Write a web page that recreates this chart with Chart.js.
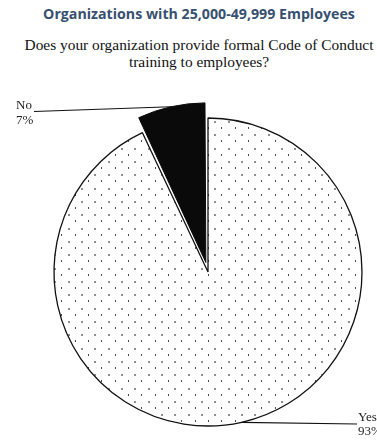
<!DOCTYPE html>
<html>
<head>
<meta charset="utf-8">
<script src="https://cdn.jsdelivr.net/npm/chart.js@4.4.1/dist/chart.umd.min.js"></script>
<style>
  html, body { margin: 0; padding: 0; background: #fff; }
  #wrap { position: relative; width: 377px; height: 441px; overflow: hidden; }
  #c { position: absolute; left: 0; top: 0; }
  .title { position: absolute; left: 0; width: 398px; top: 4px; text-align: center;
           font: bold 14.2px "Open Sans", sans-serif; color: #37506f; white-space: nowrap; }
  .sub { position: absolute; left: 0; width: 398px; top: 36px; text-align: center;
         font: 15.4px "Liberation Serif", serif; line-height: 17px; color: #111; white-space: nowrap; }
</style>
</head>
<body>
<div id="wrap">
  <div class="title">Organizations with 25,000-49,999 Employees</div>
  <div class="sub">Does your organization provide formal Code of Conduct<br>training to employees?</div>
  <canvas id="c" width="377" height="441"></canvas>
</div>
<script>
// Survey answers and their shares (percent)
const categories = ['Yes', 'No'];
const shares = [93, 7];
const shareLabels = ['93%', '7%'];

// Stippled fill for the "Yes" slice: grey dots with small dark ticks between them
function stipple() {
  const tile = document.createElement('canvas');
  tile.width = 40; tile.height = 40;
  const g = tile.getContext('2d');
  g.fillStyle = '#fff';
  g.fillRect(0, 0, 40, 40);
  const steps = [0, 13, 27];
  for (const sx of steps) {
    for (const sy of steps) {
      g.fillStyle = '#8e8e8e';
      g.fillRect(sx + 1, sy + 1, 2, 2);
      g.fillStyle = '#4a4a4a';
      g.fillRect(sx + 8, sy + 7, 1, 2);
    }
  }
  return g.createPattern(tile, 'repeat');
}

// Callout labels with leader lines for each slice
const calloutLabels = {
  id: 'calloutLabels',
  afterDatasetsDraw(chart) {
    const ctx = chart.ctx;
    const arcs = chart.getDatasetMeta(0).data;
    const place = [
      { side: 'right', lineEnd: [357, 424], text: [358, 421], sub: [358, 435] },
      { side: 'left', lineEnd: [34, 111.5], text: [32, 108.5], sub: [32, 124] }
    ];
    ctx.save();
    ctx.font = '13px "Liberation Serif", serif';
    arcs.forEach((arc, i) => {
      const p = arc.getProps(['x', 'y', 'startAngle', 'endAngle', 'outerRadius', 'circumference']);
      const mid = (p.startAngle + p.endAngle) / 2;
      const shift = (arc.options.offset || 0) / 4;
      const fix = 1 - Math.sin(Math.min(Math.PI, p.circumference || 0));
      const r = p.outerRadius + shift * fix;
      const ax = p.x + Math.cos(mid) * (shift + r);
      const ay = p.y + Math.sin(mid) * (shift + r);
      const L = place[i];
      ctx.strokeStyle = '#111';
      ctx.lineWidth = 1.2;
      ctx.beginPath();
      ctx.moveTo(ax, ay);
      ctx.lineTo(L.lineEnd[0], L.lineEnd[1]);
      ctx.stroke();
      ctx.fillStyle = '#222';
      ctx.textAlign = L.side === 'left' ? 'right' : 'left';
      ctx.textBaseline = 'alphabetic';
      ctx.fillText(categories[i], L.text[0], L.text[1]);
      ctx.textAlign = 'left';
      const subX = L.side === 'left' ? L.text[0] - ctx.measureText(categories[i]).width : L.sub[0];
      ctx.fillText(shareLabels[i], subX, L.sub[1]);
    });
    ctx.restore();
  }
};

const canvas = document.getElementById('c');
new Chart(canvas, {
  type: 'pie',
  data: {
    labels: categories,
    datasets: [{
      data: shares,
      backgroundColor: [stipple(), '#0a0a0a'],
      borderColor: ['#111', '#0a0a0a'],
      borderWidth: [1.3, 1],
      offset: [0, 39],
      hoverOffset: 0
    }]
  },
  options: {
    responsive: false,
    animation: false,
    radius: 154,
    layout: { padding: { left: 45.5, right: 6.5, top: 109.5, bottom: 6.5 } },
    plugins: {
      legend: { display: false },
      tooltip: { enabled: false }
    },
    events: []
  },
  plugins: [calloutLabels]
});
</script>
</body>
</html>
